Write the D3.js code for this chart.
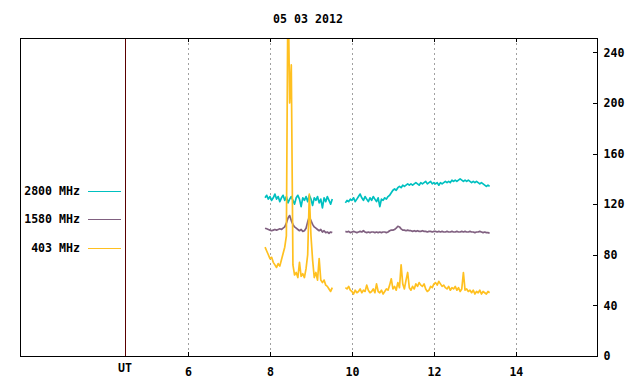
<!DOCTYPE html>
<html>
<head>
<meta charset="utf-8">
<script src="https://cdn.jsdelivr.net/npm/d3@7"></script>
<style>
  html, body { margin: 0; padding: 0; background: #fff; }
  svg text { font-family: "DejaVu Sans Mono", "Liberation Mono", monospace; font-weight: bold; font-size: 11.6px; fill: #000; }
</style>
</head>
<body>
<svg id="chart" width="640" height="384"></svg>
<script>
// ---------------- DATA ----------------
const title = "05 03 2012";
const xTicks = [6, 8, 10, 12, 14];
const yTicks = [0, 40, 80, 120, 160, 200, 240];
const seriesNames = ["2800 MHz", "1580 MHz", "403 MHz"];
const seriesColors = ["#00c0c0", "#806080", "#ffc020"];

// sampling: segment 1 starts 7.88 UT, segment 2 starts 9.84 UT, step 0.04 h
const seg1Start = 7.88, seg2Start = 9.84, sampleStep = 0.04;

const f2800a = [125,127,124,126,123,125,128,124,126,122,125,127,123,126,121,124,126,123,120,125,127,124,118,125,123,126,122,127,124,119,125,123,126,121,124,117,125,122,126,123,120,124];
const f2800b = [121,123,122,124,123,125,122,124,126,128,125,123,126,124,122,125,123,126,124,122,125,118,124,123,125,124,126,
  127,129,131,132,131,133,134,133,135,134,135,136,135,136,135,136,137,136,135,137,136,137,138,136,137,138,136,137,136,137,135,137,136,137,138,137,138,137,139,138,139,138,139,140,139,138,139,138,139,138,137,138,137,138,137,136,137,136,135,134,135,134];

const f1580a = [101,100.5,100,99.5,99,99.5,100,99.5,100,100.5,100,101,102,105,109,111,107,104,102,101,100,99,100,98.5,99,101,106,110,107,104,102,101,100,99,100,98,99,97.5,98,97,98,97.5];
const f1580b = [98.5,98,98.5,97.5,98,98.5,98,97.5,98,98.5,98,99,98,97.5,98,97.5,98,98,97.5,98,97.5,98,97.5,98,98,97.5,98,
  99,99.5,99.5,100,101,102.5,102,100.5,99.5,99.5,99,99.5,99,
  99,98.5,99,98.5,99,98.5,98.5,99,98.5,98.5,98,98.5,98.5,98,98.5,98.5,98,98.5,98,98.5,98,98,98.5,98,98,98.5,98,98,98.5,98,98,98.5,98,98.5,98,98,98.5,98,98,97.5,98,98,98.5,98,97.5,98,97.5,97.5,97];

const f403a = [86,83,80,77,78,74,72,70,73,71,76,81,86,95,300,200,230,72,64,66,62,74,63,65,62,69,80,128,95,76,62,66,60,77,60,58,60,56,55,53,51,54];
const f403b = [54,53,55,52,51,49,52,50,51,53,50,52,51,56,52,50,51,53,50,57,51,50,52,49,51,53,52,
  56,61,53,55,52,58,54,72,57,53,60,66,54,52,55,53,57,55,58,56,55,57,53,51,52,55,54,57,58,56,59,57,55,56,54,53,55,52,54,53,55,52,54,51,53,66,52,53,51,52,50,52,49,51,50,52,49,51,50,49,51,50];

// ---------------- LAYOUT ----------------
const svg = d3.select("#chart");
const pLeft = 20, pRight = 597, pTop = 38, pBottom = 356;

const x = d3.scaleLinear().domain([1.9, 15.98]).range([pLeft, pRight]);
const y = d3.scaleLinear().domain([0, 251.3]).range([pBottom, pTop]);

svg.append("defs").append("clipPath").attr("id", "clip")
  .append("rect").attr("x", pLeft).attr("y", pTop).attr("width", pRight - pLeft).attr("height", pBottom - pTop);

// grid lines
svg.append("g").selectAll("line").data(xTicks).join("line")
  .attr("x1", d => Math.round(x(d)) + 0.5).attr("x2", d => Math.round(x(d)) + 0.5)
  .attr("y1", pTop).attr("y2", pBottom)
  .attr("stroke", "#a0a0a0").attr("stroke-width", 1).attr("stroke-dasharray", "2,3");

// UT vertical line
const utHour = 4.46;
svg.append("line")
  .attr("x1", Math.round(x(utHour)) + 0.5).attr("x2", Math.round(x(utHour)) + 0.5)
  .attr("y1", pTop).attr("y2", pBottom)
  .attr("stroke", "#5a0000").attr("stroke-width", 1);

// series
function makeSeg(start, vals) {
  return vals.map((v, i) => ({ t: start + i * sampleStep, v }));
}
const series = [
  [makeSeg(seg1Start, f2800a), makeSeg(seg2Start, f2800b)],
  [makeSeg(seg1Start, f1580a), makeSeg(seg2Start, f1580b)],
  [makeSeg(seg1Start, f403a), makeSeg(seg2Start, f403b)]
];
const line = d3.line().x(d => x(d.t)).y(d => y(d.v));
const gData = svg.append("g").attr("clip-path", "url(#clip)");
series.forEach((segs, si) => {
  segs.forEach(seg => {
    gData.append("path").datum(seg)
      .attr("d", line).attr("fill", "none")
      .attr("stroke", seriesColors[si]).attr("stroke-width", 1.7)
      .attr("stroke-linejoin", "round");
  });
});

// frame
svg.append("rect").attr("x", pLeft + 0.5).attr("y", pTop + 0.5)
  .attr("width", pRight - pLeft).attr("height", pBottom - pTop)
  .attr("fill", "none").attr("stroke", "#000").attr("stroke-width", 1);

// right axis
const yAxis = d3.axisRight(y).tickValues(yTicks).tickSize(0).tickPadding(6);
const ga = svg.append("g").attr("transform", `translate(${pRight + 0.5},0)`).call(yAxis);
ga.select(".domain").remove();
ga.attr("font-family", null).attr("font-size", null);
svg.append("g").selectAll("line").data(yTicks).join("line")
  .attr("x1", pRight - 4).attr("x2", pRight)
  .attr("y1", d => Math.round(y(d)) + 0.5).attr("y2", d => Math.round(y(d)) + 0.5)
  .attr("stroke", "#000");

// x ticks (top & bottom, inward)
const gx = svg.append("g");
gx.selectAll("line.tb").data(xTicks).join("line").attr("class", "tb")
  .attr("x1", d => Math.round(x(d)) + 0.5).attr("x2", d => Math.round(x(d)) + 0.5)
  .attr("y1", pTop).attr("y2", pTop + 4).attr("stroke", "#000");
gx.selectAll("line.bb").data(xTicks).join("line").attr("class", "bb")
  .attr("x1", d => Math.round(x(d)) + 0.5).attr("x2", d => Math.round(x(d)) + 0.5)
  .attr("y1", pBottom - 4).attr("y2", pBottom).attr("stroke", "#000");
gx.selectAll("text").data(xTicks).join("text")
  .attr("x", d => x(d) + 0.5).attr("y", 376).attr("text-anchor", "middle").text(d => d);
svg.append("text").attr("x", x(utHour)).attr("y", 372).attr("text-anchor", "middle").text("UT");

// title
svg.append("text").attr("x", 308).attr("y", 23).attr("text-anchor", "middle").text(title);

// legend
const legendY = [191, 219, 248];
const lg = svg.append("g");
seriesNames.forEach((name, i) => {
  lg.append("text").attr("x", 80).attr("y", legendY[i] + 4).attr("text-anchor", "end").text(name);
  lg.append("line").attr("x1", 88).attr("x2", 121)
    .attr("y1", legendY[i] + 0.5).attr("y2", legendY[i] + 0.5)
    .attr("stroke", seriesColors[i]).attr("stroke-width", 1);
});
</script>
</body>
</html>
